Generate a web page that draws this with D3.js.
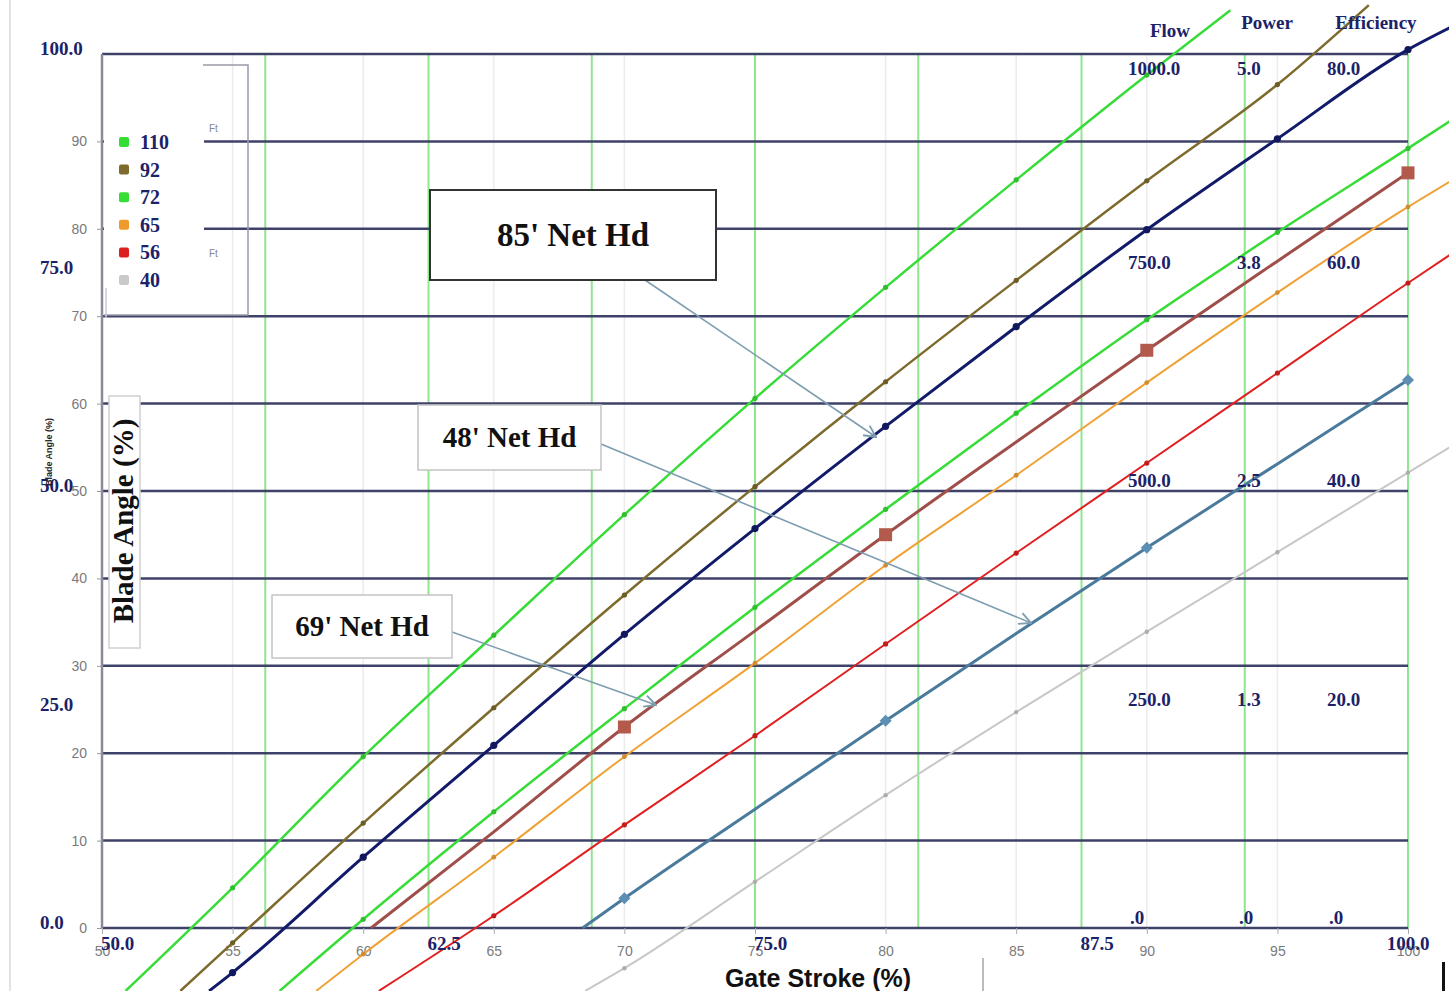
<!DOCTYPE html>
<html>
<head>
<meta charset="utf-8">
<script src="https://cdn.jsdelivr.net/npm/d3@7"></script>
<style>
  html, body { margin: 0; padding: 0; background: #ffffff; }
  svg { display: block; }
</style>
</head>
<body>
<svg id="chart" width="1449" height="991"></svg>
<script>
// ---------- DATA (gate stroke %, blade angle %) ----------
const head110 = [[50.9,-7.2],[55,4.6],[60,19.6],[65,33.5],[70,47.3],[75,60.6],[80,73.3],[85,85.6],[90,97.6],[93.2,105]];
const head92  = [[53.0,-7.2],[55,-1.7],[60,12.0],[65,25.2],[70,38.1],[75,50.5],[80,62.5],[85,74.1],[90,85.5],[95,96.5],[98.5,105.6]];
const head85  = [[54.1,-7.2],[55,-5.1],[60,8.1],[65,20.9],[70,33.6],[75,45.7],[80,57.4],[85,68.8],[90,79.9],[95,90.3],[100,100.5],[101.6,103.0]];
const head72  = [[56.8,-7.2],[60,1.0],[65,13.3],[70,25.1],[75,36.7],[80,47.9],[85,58.9],[90,69.6],[95,79.6],[100,89.2],[101.6,92.3]];
const head69  = [[60.3,0],[65,11.0],[70,23.0],[75,34.0],[80,45.0],[85,55.6],[90,66.1],[95,76.3],[100,86.4]];
const head65  = [[58.2,-7.2],[60,-3.0],[65,8.1],[70,19.6],[75,30.3],[80,41.5],[85,51.8],[90,62.4],[95,72.7],[100,82.5],[101.6,85.4]];
const head56  = [[60.6,-7.2],[65,1.4],[70,11.8],[75,22.0],[80,32.5],[85,42.9],[90,53.2],[95,63.5],[100,73.8],[101.6,77.0]];
const head48  = [[68.4,0],[70,3.4],[75,13.6],[80,23.7],[85,33.7],[90,43.5],[95,53.1],[100,62.7]];
const head40  = [[68.5,-7.2],[70,-4.6],[75,5.3],[80,15.2],[85,24.7],[90,33.9],[95,43.0],[100,52.1],[101.6,55.0]];

const xTicks = [50, 55, 60, 65, 70, 75, 80, 85, 90, 95, 100];
const yTicks = [0, 10, 20, 30, 40, 50, 60, 70, 80, 90, 100];
const secondaryXTicks = [56.25, 62.5, 68.75, 75, 81.25, 87.5, 93.75, 100];
const secondaryXLabels = [50.0, 62.5, 75.0, 87.5, 100.0];
const secondaryYLabels = [0, 25, 50, 75, 100];
const flowLabels = ["1000.0", "750.0", "500.0", "250.0", ".0"];
const powerLabels = ["5.0", "3.8", "2.5", "1.3", ".0"];
const effLabels = ["80.0", "60.0", "40.0", "20.0", ".0"];
const legendItems = ["110", "92", "72", "65", "56", "40"];
const legendColors = ["#35dd35", "#7d6a2c", "#35dd35", "#ef9a2c", "#dd1f1f", "#c9c9c9"];

// ---------- SETUP ----------
const svg = d3.select("#chart");
const x = d3.scaleLinear().domain([50, 100]).range([102, 1408]);
const y = d3.scaleLinear().domain([0, 100]).range([928, 54]);
const navyText = "#1c2268";
const serif = "'Liberation Serif', 'DejaVu Serif', serif";
const sans = "'Liberation Sans', Arial, sans-serif";

// left faint page border
svg.append("line").attr("x1", 10).attr("x2", 10).attr("y1", 0).attr("y2", 991)
  .attr("stroke", "#e2e2e2").attr("stroke-width", 2);

// faint gray vertical gridlines
svg.append("g").selectAll("line").data(xTicks.filter(d => d > 50 && d < 100)).join("line")
  .attr("x1", d => x(d)).attr("x2", d => x(d)).attr("y1", y(100)).attr("y2", y(0))
  .attr("stroke", "#ececec").attr("stroke-width", 1.5);

// green secondary verticals
svg.append("g").selectAll("line").data(secondaryXTicks).join("line")
  .attr("x1", d => x(d)).attr("x2", d => x(d)).attr("y1", y(100)).attr("y2", y(0))
  .attr("stroke", "#8fe68f").attr("stroke-width", 2);

// horizontal gridlines
svg.append("g").selectAll("line").data(yTicks).join("line")
  .attr("x1", x(50)).attr("x2", x(100)).attr("y1", d => y(d)).attr("y2", d => y(d))
  .attr("stroke", "#3e4268").attr("stroke-width", 2.5);

// y axis line
svg.append("line").attr("x1", x(50)).attr("x2", x(50)).attr("y1", y(100)).attr("y2", y(0))
  .attr("stroke", "#8a8a9a").attr("stroke-width", 2.5);

// primary y axis (gray)
const yAxis = d3.axisLeft(y).tickValues(yTicks.filter(d => d < 100)).tickSize(5).tickPadding(10).tickFormat(d3.format("d"));
const gy = svg.append("g").attr("transform", `translate(${x(50)},0)`).call(yAxis);
gy.select(".domain").remove();
gy.selectAll("line").attr("stroke", "#999");
gy.selectAll("text").attr("fill", "#7a7a7a").attr("font-family", sans).attr("font-size", 14);

// primary x axis (gray)
const xAxis = d3.axisBottom(x).tickValues(xTicks).tickSize(6).tickPadding(12).tickFormat(d3.format("d"));
const gx = svg.append("g").attr("transform", `translate(0,${y(0)})`).call(xAxis);
gx.select(".domain").remove();
gx.selectAll("line").attr("stroke", "#aaa");
gx.selectAll("text").attr("fill", "#7a7a7a").attr("font-family", sans).attr("font-size", 14);

// legend panel (white, covers grid)
svg.append("rect").attr("x", 104).attr("y", 60).attr("width", 100).attr("height", 255).attr("fill", "#fff");
svg.append("path").attr("d", "M203,65 L248,65 L248,315 L104,315")
  .attr("fill", "none").attr("stroke", "#9a9aa8").attr("stroke-width", 1.5);
svg.append("line").attr("x1", 106).attr("x2", 106).attr("y1", 288).attr("y2", 318)
  .attr("stroke", "#c9c9d6").attr("stroke-width", 1.5);
svg.append("text").attr("x", 209).attr("y", 132).text("Ft").attr("font-family", sans).attr("font-size", 10).attr("fill", "#888");
svg.append("text").attr("x", 209).attr("y", 257).text("Ft").attr("font-family", sans).attr("font-size", 10).attr("fill", "#888");
const leg = svg.append("g").selectAll("g").data(legendItems).join("g")
  .attr("transform", (d, i) => `translate(124,${142 + i * 27.6})`);
leg.append("rect").attr("x", -5).attr("y", -5).attr("width", 10).attr("height", 10).attr("rx", 2)
  .attr("fill", (d, i) => legendColors[i]);
leg.append("text").attr("x", 16).attr("y", 7).text(d => d)
  .attr("font-family", serif).attr("font-weight", "bold").attr("font-size", 20).attr("fill", navyText);

// ---------- SERIES ----------
const seriesList = [
  { data: head40,  color: "#c8c8c8", width: 2,   marker: "dot", r: 2.2, step: 5 },
  { data: head48,  color: "#4a7a9c", width: 3,   marker: "diamond", r: 6, step: 10, mcolor: "#5d8fb5" },
  { data: head56,  color: "#e02020", width: 2,   marker: "dot", r: 2.6, step: 5 },
  { data: head65,  color: "#f0a135", width: 2,   marker: "dot", r: 2.4, step: 5 },
  { data: head69,  color: "#9f4e4a", width: 3,   marker: "square", r: 6.5, step: 10, mcolor: "#b35a4c" },
  { data: head72,  color: "#38dc38", width: 2.5, marker: "dot", r: 2.6, step: 5 },
  { data: head85,  color: "#121a6a", width: 3,   marker: "dot", r: 3.6, step: 5 },
  { data: head92,  color: "#7d6a2c", width: 2.5, marker: "dot", r: 2.6, step: 5 },
  { data: head110, color: "#38dc38", width: 2.5, marker: "dot", r: 2.6, step: 5 }
];
const line = d3.line().x(d => x(d[0])).y(d => y(d[1])).curve(d3.curveMonotoneX);
const gLines = svg.append("g");
seriesList.forEach(s => {
  gLines.append("path").datum(s.data).attr("d", line)
    .attr("fill", "none").attr("stroke", s.color).attr("stroke-width", s.width);
  const pts = s.data.filter(d => Math.abs(d[0] / s.step - Math.round(d[0] / s.step)) < 1e-6 && d[0] >= 55);
  const mg = gLines.append("g");
  if (s.marker === "dot") {
    mg.selectAll("circle").data(pts).join("circle")
      .attr("cx", d => x(d[0])).attr("cy", d => y(d[1])).attr("r", s.r)
      .attr("fill", d3.color(s.color).darker(0.4));
  } else if (s.marker === "square") {
    mg.selectAll("rect").data(pts).join("rect")
      .attr("x", d => x(d[0]) - s.r).attr("y", d => y(d[1]) - s.r)
      .attr("width", s.r * 2).attr("height", s.r * 2).attr("fill", s.mcolor);
  } else {
    mg.selectAll("path").data(pts).join("path")
      .attr("transform", d => `translate(${x(d[0])},${y(d[1])})`)
      .attr("d", `M0,${-s.r} L${s.r},0 L0,${s.r} L${-s.r},0 Z`).attr("fill", s.mcolor);
  }
});

// ---------- SECONDARY LABELS ----------
const secX = svg.append("g").selectAll("text").data(secondaryXLabels).join("text")
  .attr("x", d => d === 100 ? x(d) : x(d) - 1)
  .attr("y", 950)
  .attr("text-anchor", d => d === 100 ? "middle" : "start")
  .text(d => d.toFixed(1))
  .attr("font-family", serif).attr("font-weight", "bold").attr("font-size", 19).attr("fill", navyText);

svg.append("g").selectAll("text").data(secondaryYLabels).join("text")
  .attr("x", 40).attr("y", d => y(d) + 1)
  .text(d => d.toFixed(1))
  .attr("font-family", serif).attr("font-weight", "bold").attr("font-size", 19).attr("fill", navyText);

const colX = [1128, 1237, 1327];
[flowLabels, powerLabels, effLabels].forEach((labels, ci) => {
  svg.append("g").selectAll("text").data(labels).join("text")
    .attr("x", (d, i) => colX[ci] + (d === ".0" ? 2 : 0))
    .attr("y", (d, i) => Math.max(y(100 - i * 25) - 4, 75))
    .text(d => d)
    .attr("font-family", serif).attr("font-weight", "bold").attr("font-size", 19).attr("fill", navyText);
});
const headers = [["Flow", 1170, 37], ["Power", 1267, 29], ["Efficiency", 1376, 29]];
svg.append("g").selectAll("text").data(headers).join("text")
  .attr("x", d => d[1]).attr("y", d => d[2]).attr("text-anchor", "middle").text(d => d[0])
  .attr("font-family", serif).attr("font-weight", "bold").attr("font-size", 19).attr("fill", navyText);

// ---------- AXIS TITLES ----------
svg.append("rect").attr("x", 109).attr("y", 396).attr("width", 31).attr("height", 252)
  .attr("fill", "#fff").attr("stroke", "#d0d0d0").attr("stroke-width", 1.5);
svg.append("text").attr("transform", "translate(133,521) rotate(-90)").attr("text-anchor", "middle")
  .text("Blade Angle (%)").attr("font-family", serif).attr("font-weight", "bold").attr("font-size", 29).attr("fill", "#111");
svg.append("text").attr("transform", "translate(52,452) rotate(-90)").attr("text-anchor", "middle")
  .text("Blade Angle (%)").attr("font-family", sans).attr("font-weight", "bold").attr("font-size", 9).attr("fill", "#222");
svg.append("text").attr("x", 818).attr("y", 987).attr("text-anchor", "middle")
  .text("Gate Stroke (%)").attr("font-family", sans).attr("font-weight", "bold").attr("font-size", 25).attr("fill", "#111");
svg.append("line").attr("x1", 983).attr("x2", 983).attr("y1", 958).attr("y2", 991).attr("stroke", "#bbb").attr("stroke-width", 2);
svg.append("rect").attr("x", 1442).attr("y", 962).attr("width", 3).attr("height", 29).attr("fill", "#111");

// ---------- ANNOTATIONS ----------
const defs = svg.append("defs");
defs.append("marker").attr("id", "arr").attr("viewBox", "0 0 12 12").attr("refX", 11).attr("refY", 6)
  .attr("markerWidth", 14).attr("markerHeight", 14).attr("markerUnits", "userSpaceOnUse").attr("orient", "auto")
  .append("path").attr("d", "M1,1 L11,6 L1,11").attr("fill", "none").attr("stroke", "#7e9db0").attr("stroke-width", 1.6);

const notes = [
  { text: "85' Net Hd", bx: 430, by: 190, bw: 286, bh: 90, fs: 33, stroke: "#333", sw: 2, from: [645, 280], to: [876, 437] },
  { text: "48' Net Hd", bx: 418, by: 405, bw: 183, bh: 65, fs: 29, stroke: "#c4c4c4", sw: 1.5, from: [601, 444], to: [1031, 623] },
  { text: "69' Net Hd", bx: 272, by: 595, bw: 180, bh: 63, fs: 29, stroke: "#c4c4c4", sw: 1.5, from: [452, 632], to: [656, 705] }
];
notes.forEach(n => {
  svg.append("line").attr("x1", n.from[0]).attr("y1", n.from[1]).attr("x2", n.to[0]).attr("y2", n.to[1])
    .attr("stroke", "#7e9db0").attr("stroke-width", 1.6).attr("marker-end", "url(#arr)");
  svg.append("rect").attr("x", n.bx).attr("y", n.by).attr("width", n.bw).attr("height", n.bh)
    .attr("fill", "#fff").attr("stroke", n.stroke).attr("stroke-width", n.sw);
  svg.append("text").attr("x", n.bx + n.bw / 2).attr("y", n.by + n.bh / 2 + n.fs * 0.34)
    .attr("text-anchor", "middle").text(n.text)
    .attr("font-family", serif).attr("font-weight", "bold").attr("font-size", n.fs).attr("fill", "#111");
});
</script>
</body>
</html>
